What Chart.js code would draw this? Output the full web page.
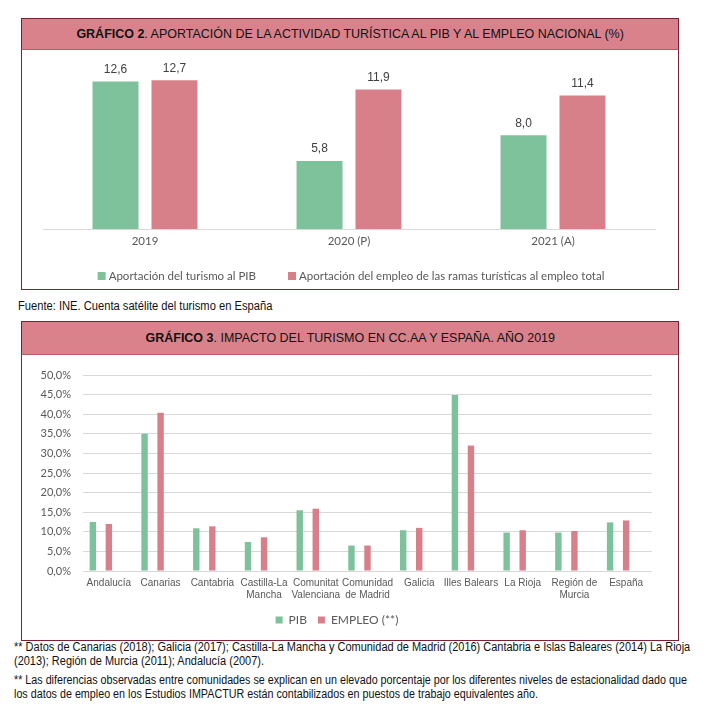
<!DOCTYPE html>
<html lang="es">
<head>
<meta charset="utf-8">
<script src="https://cdn.jsdelivr.net/npm/chart.js@4.4.1/dist/chart.umd.min.js"></script>
<style>
  html, body { margin: 0; padding: 0; background: #fff; }
  body { width: 715px; height: 708px; position: relative; overflow: hidden; font-family: "Liberation Sans Narrow", "Arial Narrow", "Liberation Sans", sans-serif; color: #111; }
  .caja { position: absolute; left: 21px; width: 656px; border: 1px solid #7a2233; background: #fff; }
  .cabecera { position: absolute; left: 21px; width: 656px; background: #d9828c; border: 1px solid #7a2233; border-bottom-color: #b85a66; text-align: center; font-size: 13px; line-height: 30px; }
  .cabecera span { display: inline-block; transform: scaleX(0.96); }
  .lienzo { position: absolute; left: 22px; width: 656px; }
  .nota { position: absolute; left: 14px; font-size: 12px; line-height: 14px; color: #111; white-space: nowrap; transform: scaleX(0.915); transform-origin: 0 0; }
</style>
</head>
<body>
  <div class="caja" style="top:18px;height:270px"></div>
  <div class="cabecera" style="top:18px;height:30px"><span><b>GRÁFICO 2</b>. APORTACIÓN DE LA ACTIVIDAD TURÍSTICA AL PIB Y AL EMPLEO NACIONAL (%)</span></div>
  <div class="lienzo" style="top:49px;height:239px"><canvas id="chartNacional"></canvas></div>

  <div class="nota" style="top:299px;left:18px;transform:scaleX(0.93)">Fuente: INE. Cuenta satélite del turismo en España</div>

  <div class="caja" style="top:321px;height:318px"></div>
  <div class="cabecera" style="top:321px;height:32px;line-height:32px"><span><b>GRÁFICO 3</b>. IMPACTO DEL TURISMO EN CC.AA Y ESPAÑA. AÑO 2019</span></div>
  <div class="lienzo" style="top:355px;height:284px"><canvas id="chartCcaa"></canvas></div>

  <div class="nota" style="top:640px">** Datos de Canarias (2018); Galicia (2017); Castilla-La Mancha y Comunidad de Madrid (2016) Cantabria e Islas Baleares (2014) La Rioja<br>(2013); Región de Murcia (2011); Andalucía (2007).</div>
  <div class="nota" style="top:673px;transform:scaleX(0.895)">** Las diferencias observadas entre comunidades se explican en un elevado porcentaje por los diferentes niveles de estacionalidad dado que<br>los datos de empleo en los Estudios IMPACTUR están contabilizados en puestos de trabajo equivalentes año.</div>

<script>
const VERDE = '#7ec29c';
const ROSA = '#d8808a';

// Gráfico 2
const anios = ['2019', '2020 (P)', '2021 (A)'];
const pibNacional = [12.6, 5.8, 8.0];
const empleoNacional = [12.7, 11.9, 11.4];

// Gráfico 3
const comunidades = [['Andalucía'], ['Canarias'], ['Cantabria'], ['Castilla-La', 'Mancha'], ['Comunitat', 'Valenciana'], ['Comunidad', 'de Madrid'], ['Galicia'], ['Illes Balears'], ['La Rioja'], ['Región de', 'Murcia'], ['España']];
const pibCcaa = [12.5, 35.0, 10.9, 7.4, 15.5, 6.5, 10.4, 44.9, 9.8, 9.8, 12.4];
const empleoCcaa = [12.0, 40.4, 11.4, 8.6, 15.9, 6.5, 11.0, 32.0, 10.4, 10.2, 12.9];
const vacio = comunidades.map(() => null);
const ticksCcaa = [0, 5, 10, 15, 20, 25, 30, 35, 40, 45, 50];

const coma = (v, d = 1) => v.toFixed(d).replace('.', ',');

const etiquetasValor = {
  id: 'etiquetasValor',
  afterDatasetsDraw(chart) {
    const ctx = chart.ctx;
    ctx.save();
    ctx.font = '12px "Liberation Sans Narrow", "Liberation Sans", sans-serif';
    ctx.fillStyle = '#404040';
    ctx.textAlign = 'center';
    ctx.textBaseline = 'middle';
    chart.data.datasets.forEach((ds, i) => {
      chart.getDatasetMeta(i).data.forEach((bar, j) => {
        ctx.fillText(coma(ds.data[j]), bar.x, bar.y - 12);
      });
    });
    ctx.restore();
  }
};

// leyenda propia: los elementos van más separados que en la leyenda de Chart.js
const leyendaAbajo = {
  id: 'leyendaAbajo',
  afterDraw(chart) {
    const ctx = chart.ctx;
    const gap = 32, caja = 8;
    ctx.save();
    ctx.font = '11.5px Lato, sans-serif';
    ctx.textBaseline = 'middle';
    const items = chart.data.datasets.map(ds => ({ text: ds.label, color: ds.backgroundColor, w: caja + 3 + ctx.measureText(ds.label).width }));
    const total = items.reduce((s, it) => s + it.w, 0) + gap * (items.length - 1);
    let x = (chart.chartArea.left + chart.chartArea.right) / 2 + 2 - total / 2;
    const y = chart.height - 12;
    items.forEach(it => {
      ctx.fillStyle = it.color;
      ctx.fillRect(x, y - caja / 2, caja, caja);
      ctx.fillStyle = '#595959';
      ctx.fillText(it.text, x + caja + 3, y);
      x += it.w + gap;
    });
    ctx.restore();
  }
};

new Chart(document.getElementById('chartNacional'), {
  type: 'bar',
  data: {
    labels: anios,
    datasets: [
      { label: 'Aportación del turismo al PIB', data: pibNacional, backgroundColor: VERDE },
      { label: 'Aportación del empleo de las ramas turísticas al empleo total', data: empleoNacional, backgroundColor: ROSA },
    ]
  },
  options: {
    responsive: true, maintainAspectRatio: false, animation: false,
    categoryPercentage: 0.578, barPercentage: 0.78,
    layout: { padding: { left: 21, right: 23, top: 16, bottom: 33 } },
    plugins: { legend: { display: false }, tooltip: { enabled: false } },
    scales: {
      x: {
        grid: { display: false, drawTicks: false },
        border: { color: '#d9d9d9', width: 1 },
        ticks: { color: '#595959', font: { family: 'Lato', size: 11.5 }, padding: 5 },
        afterFit: s => { s.height = 26; }
      },
      y: { display: false, min: 0, max: 14 }
    }
  },
  plugins: [etiquetasValor, leyendaAbajo]
});

new Chart(document.getElementById('chartCcaa'), {
  type: 'bar',
  data: {
    labels: comunidades,
    datasets: [
      { label: 'PIB', data: pibCcaa, backgroundColor: VERDE },
      { label: 'EMPLEO (**)', data: empleoCcaa, backgroundColor: ROSA },
      { label: '', data: vacio, backgroundColor: 'transparent' },
    ]
  },
  options: {
    responsive: true, maintainAspectRatio: false, animation: false,
    categoryPercentage: 0.93, barPercentage: 0.4,
    layout: { padding: { left: 0, right: 26, top: 20, bottom: 3 } },
    plugins: {
      tooltip: { enabled: false },
      legend: {
        position: 'bottom',
        labels: {
          color: '#595959', font: { family: 'Lato', size: 12 }, boxWidth: 7, boxHeight: 7, padding: 11,
          filter: it => it.text !== ''
        }
      }
    },
    scales: {
      x: {
        grid: { display: false, drawTicks: false },
        border: { display: false },
        ticks: { color: '#595959', font: { family: 'Liberation Sans', size: 10 }, padding: 6, maxRotation: 0, autoSkip: false },
        afterFit: s => { s.height = 32; }
      },
      y: {
        min: 0, max: 50,
        afterBuildTicks: s => { s.ticks = ticksCcaa.map(v => ({ value: v })); },
        grid: { color: '#d9d9d9', drawTicks: false },
        border: { display: false },
        ticks: { color: '#595959', font: { family: 'Lato', size: 11 }, padding: 12, callback: v => coma(v) + '%' },
        afterFit: s => { s.width = 61; }
      }
    }
  }
});
</script>
</body>
</html>
